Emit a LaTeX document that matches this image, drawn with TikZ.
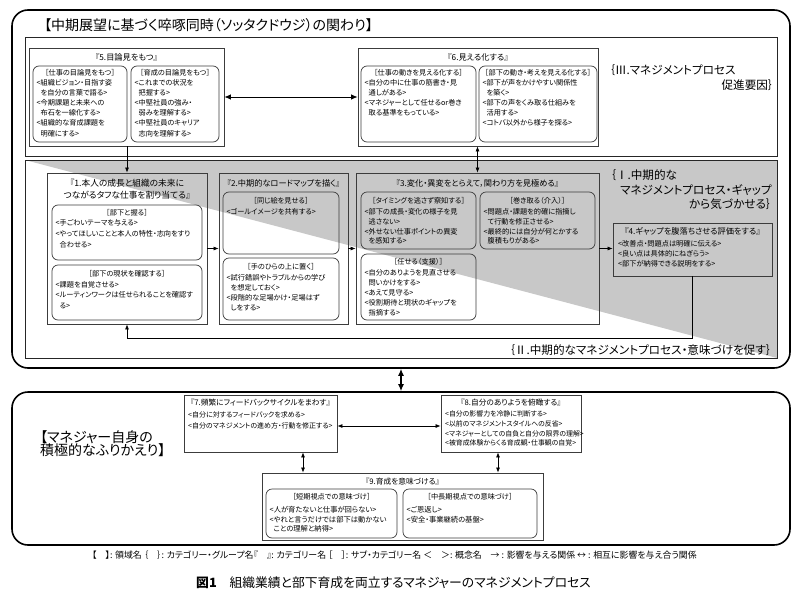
\documentclass[tikz,border=0pt]{standalone}
\usepackage{fontspec}
\setmainfont{Noto Sans CJK JP}[RawFeature={+palt}]
\usetikzlibrary{arrows.meta,calc,fit}
\definecolor{trigray}{RGB}{200,200,200}
\definecolor{bline}{RGB}{60,60,60}
\newcommand\myind{\hspace*{0.55em}}
\begin{document}
\begin{tikzpicture}[x=1pt,y=-1pt,
  outer/.style={draw=black,line width=1.6pt,rounded corners=16pt,inner sep=0pt},
  panel/.style={draw=black!85,line width=0.8pt,inner sep=0pt},
  cbox/.style={draw=bline,line width=0.8pt,inner sep=0pt},
  sbox/.style={draw=bline,line width=0.7pt,rounded corners=6pt,inner sep=0pt},
  ctitle/.style={font=\fontsize{8.2}{10}\selectfont,inner sep=0pt},
  stitle/.style={font=\fontsize{7.2}{9}\selectfont,inner sep=0pt},
  body/.style={font=\fontsize{7.2}{10.2}\selectfont,align=left,inner sep=0pt,anchor=north west},
  grp/.style={font=\fontsize{11.6}{13}\selectfont,inner sep=0pt},
  arr/.style={-{Latex[length=5pt,width=4pt]},line width=0.7pt},
  darr/.style={{Latex[length=5pt,width=4pt]}-{Latex[length=5pt,width=4pt]},line width=0.7pt},
  mdarr/.style={{Latex[length=6.5pt,width=5.5pt]}-{Latex[length=6.5pt,width=5.5pt]},line width=0.8pt},
  bigdarr/.style={{Latex[length=7pt,width=6pt]}-{Latex[length=7pt,width=6pt]},line width=1.3pt},
]
\useasboundingbox (0,0) rectangle (800,597);
\fill[white] (0,0) rectangle (800,597);

% ---------- upper section ----------
\fill[trigray] (25,160) -- (777,160) -- (777,358) -- cycle;
\node[outer,fit={(12,10) (790,368)}] (top) {};
\node[anchor=west,font=\fontsize{14}{16}\selectfont,inner sep=0pt] (title) at (44,25) {【中期展望に基づく啐啄同時（ソッタクドウジ）の関わり】};
\node[panel,fit={(25,37) (777,156)}] (p3) {};
\node[panel,fit={(25,160) (777,358)}] (p12) {};

% group labels
\node[grp,anchor=west] (l3a) at (609,70) {｛Ⅲ.マネジメントプロセス};
\node[grp,anchor=east] (l3b) at (774,85) {促進要因｝};
\node[grp,anchor=west] (l1a) at (610,175) {｛Ⅰ.中期的な};
\node[grp,anchor=west] (l1b) at (620,190) {マネジメントプロセス・ギャップ};
\node[grp,anchor=east] (l1c) at (772,204) {から気づかせる｝};
\node[grp,anchor=east] (l2) at (772,350) {｛Ⅱ.中期的なマネジメントプロセス・意味づけを促す｝};

% Box 5
\node[cbox,fit={(29,48) (224,146)}] (b5) {};
\node[ctitle] (b5t) at (126.5,57.5) {『5.目論見をもつ』};
\node[sbox,fit={(33,66) (127,142)}] (s5a) {};
\node[stitle] (s5at) at (80,72.5) {［仕事の目論見をもつ］};
\node[body] (s5ab) at (36.5,78.8) {<組織ビジョン・目指す姿\\\myind を自分の言葉で語る>\\<今期課題と未来への\\\myind 布石を一線化する>\\<組織的な育成課題を\\\myind 明確にする>};
\node[sbox,fit={(131,66) (219,142)}] (s5b) {};
\node[stitle] (s5bt) at (175,72.5) {［育成の目論見をもつ］};
\node[body] (s5bb) at (134.5,78.8) {<これまでの状況を\\\myind 把握する>\\<中堅社員の強み・\\\myind 弱みを理解する>\\<中堅社員のキャリア\\\myind 志向を理解する>};

% Box 6
\node[cbox,fit={(358,48) (598,146)}] (b6) {};
\node[ctitle] (b6t) at (478,57.5) {『6.見える化する』};
\node[sbox,fit={(361,66) (476,142)}] (s6a) {};
\node[stitle] (s6at) at (418.5,72.5) {［仕事の動きを見える化する］};
\node[body] (s6ab) at (364.5,78.8) {<自分の中に仕事の筋書き・見\\\myind 通しがある>\\<マネジャーとして任せるor巻き\\\myind 取る基準をもっている>};
\node[sbox,fit={(479,66) (597,142)}] (s6b) {};
\node[stitle] (s6bt) at (538,72.5) {［部下の動き・考えを見える化する］};
\node[body] (s6bb) at (482.5,78.8) {<部下が声をかけやすい関係性\\\myind を築く>\\<部下の声をくみ取る仕組みを\\\myind 活用する>\\<コトバ以外から様子を探る>};

% Box 1
\node[cbox,fit={(47,173) (207,324)}] (b1) {};
\node[ctitle,font=\fontsize{8.7}{11.5}\selectfont,align=center] (b1t) at (127,189) {『1.本人の成長と組織の未来に\\つながるタフな仕事を割り当てる』};
\node[sbox,fit={(52,205) (202,260)}] (s1a) {};
\node[stitle] (s1at) at (127,213) {［部下と握る］};
\node[body,font=\fontsize{7.2}{11}\selectfont] (s1ab) at (55.5,219.5) {<手ごわいテーマを与える>\\<やってほしいことと本人の特性・志向をすり\\\myind 合わせる>};
\node[sbox,fit={(52,265) (202,320)}] (s1b) {};
\node[stitle] (s1bt) at (127,273.5) {［部下の現状を確認する］};
\node[body,font=\fontsize{7.2}{10.5}\selectfont] (s1bb) at (55.5,281) {<課題を自覚させる>\\<ルーティンワークは任せられることを確認す\\\myind る>};

% Box 2
\node[cbox,fit={(219,173) (348,324)}] (b2) {};
\node[ctitle] (b2t) at (283.5,183) {『2.中期的なロードマップを描く』};
\node[sbox,fit={(223,192) (339,254)}] (s2a) {};
\node[stitle] (s2at) at (281,200.5) {［同じ絵を見せる］};
\node[body] (s2ab) at (226.5,208.5) {<ゴールイメージを共有する>};
\node[sbox,fit={(223,258) (339,320)}] (s2b) {};
\node[stitle] (s2bt) at (281,267) {［手のひらの上に置く］};
\node[body,font=\fontsize{7.2}{10}\selectfont] (s2bb) at (226.5,274.5) {<試行錯誤やトラブルからの学び\\\myind を想定しておく>\\<段階的な足場かけ・足場はず\\\myind しをする>};

% Box 3
\node[cbox,fit={(356,173) (599,324)}] (b3) {};
\node[ctitle] (b3t) at (477.5,183) {『3.変化・異変をとらえて，関わり方を見極める』};
\node[sbox,fit={(361,192) (476,249)}] (s3a) {};
\node[stitle] (s3at) at (418.5,200.5) {［タイミングを逃さず察知する］};
\node[body,font=\fontsize{7.2}{9.7}\selectfont] (s3ab) at (364.5,208.5) {<部下の成長・変化の様子を見\\\myind 逃さない>\\<外せない仕事ポイントの異変\\\myind を感知する>};
\node[sbox,fit={(480,192) (595,249)}] (s3b) {};
\node[stitle] (s3bt) at (537.5,200.5) {［巻き取る（介入）］};
\node[body,font=\fontsize{7.2}{9.7}\selectfont] (s3bb) at (483.5,208.5) {<問題点・課題を的確に指摘し\\\myind て行動を修正させる>\\<最終的には自分が何とかする\\\myind 腹積もりがある>};
\node[sbox,fit={(361,254) (476,320)}] (s3c) {};
\node[stitle] (s3ct) at (418.5,261.5) {［任せる（支援）］};
\node[body,font=\fontsize{7.2}{10}\selectfont] (s3cb) at (364.5,269.5) {<自分のありようを見直させる\\\myind 問いかけをする>\\<あえて見守る>\\<役割期待と現状のギャップを\\\myind 指摘する>};

% Box 4
\node[cbox,fit={(613,223) (772,276)}] (b4) {};
\node[ctitle] (b4t) at (692.5,231.5) {『4.ギャップを腹落ちさせる評価をする』};
\node[body,font=\fontsize{7.2}{9.8}\selectfont] (b4b) at (618,240.5) {<改善点・問題点は明確に伝える>\\<良い点は具体的にねぎらう>\\<部下が納得できる説明をする>};

% connectors upper
\coordinate (fb) at (0,338);
\draw[mdarr] (b5.east) -- (b6.west);
\draw[arr] (b1.north |- b5.south) -- (b1.north);
\draw[darr] (b3.north |- b6.south) -- (b3.north);
\draw[arr] (b1.east) -- (b2.west);
\draw[arr] (b2.east) -- (b3.west);
\draw[arr] (b3.east) -- (b3.east -| b4.west);
\draw[arr] (b4.south) -- (b4.south |- fb) -- (b1.south |- fb) -- (b1.south);

% ---------- lower section ----------
\node[outer,fit={(12,392) (790,545)}] (bot) {};
\draw[bigdarr] (top.south) -- (top.south |- bot.north);
\node[anchor=west,font=\fontsize{14}{12}\selectfont,inner sep=0pt] (lb1) at (40,437) {【マネジャー自身の};
\node[anchor=west,font=\fontsize{14}{12}\selectfont,inner sep=0pt] (lb2) at (40,450) {積極的なふりかえり】};

% Box 7
\node[cbox,fit={(184,395) (337,452)}] (b7) {};
\node[ctitle,font=\fontsize{7.7}{9}\selectfont] (b7t) at (260.5,403) {『7.頻繁にフィードバックサイクルをまわす』};
\node[body,font=\fontsize{7}{11}\selectfont] (b7b) at (188,411.3) {<自分に対するフィードバックを求める>\\<自分のマネジメントの進め方・行動を修正する>};

% Box 8
\node[cbox,fit={(441,395) (581,452)}] (b8) {};
\node[ctitle,font=\fontsize{7.7}{9}\selectfont] (b8t) at (511,403) {『8.自分のありようを俯瞰する』};
\node[body,font=\fontsize{6.9}{9.7}\selectfont] (b8b) at (445,410.8) {<自分の影響力を冷静に判断する>\\<以前のマネジメントスタイルへの反省>\\<マネジャーとしての自負と自分の限界の理解>\\<被育成体験からくる育成観・仕事観の自覚>};

% Box 9
\node[cbox,fit={(262,473) (543,540)}] (b9) {};
\node[ctitle,font=\fontsize{7.7}{9}\selectfont] (b9t) at (402.5,482) {『9.育成を意味づける』};
\node[sbox,fit={(266,489) (397,538)}] (s9a) {};
\node[stitle] (s9at) at (331.5,497) {［短期視点での意味づけ］};
\node[body,font=\fontsize{7.3}{9.2}\selectfont] (s9ab) at (269.5,506.5) {<人が育たないと仕事が回らない>\\<やれと言うだけでは部下は動かない\\\myind ことの理解と納得>};
\node[sbox,fit={(403,489) (537,538)}] (s9b) {};
\node[stitle] (s9bt) at (470,497) {［中長期視点での意味づけ］};
\node[body,font=\fontsize{7.3}{9.2}\selectfont] (s9bb) at (406.5,506.5) {<ご恩返し>\\<安全・事業継続の基盤>};

% connectors lower
\coordinate (y78) at (0,426);
\coordinate (x79) at (303,0);
\coordinate (x89) at (498,0);
\draw[darr] (b7.east |- y78) -- (b8.west |- y78);
\draw[darr] (x79 |- b7.south) -- (x79 |- b9.north);
\draw[darr] (x89 |- b8.south) -- (x89 |- b9.north);

% legend and caption
\node[anchor=west,font=\fontsize{8.9}{10}\selectfont,inner sep=0pt] (legend) at (92,555) {【　】: 領域名 ｛　｝: カテゴリー・グループ名『　』: カテゴリー名 ［　］: サブ・カテゴリー名 ＜　＞: 概念名　→ : 影響を与える関係 ↔ : 相互に影響を与え合う関係};
\node[anchor=west,font=\fontsize{12.8}{14}\selectfont,inner sep=0pt] (caption) at (196,583) {\textbf{図1}　組織業績と部下育成を両立するマネジャーのマネジメントプロセス};
\end{tikzpicture}
\end{document}
